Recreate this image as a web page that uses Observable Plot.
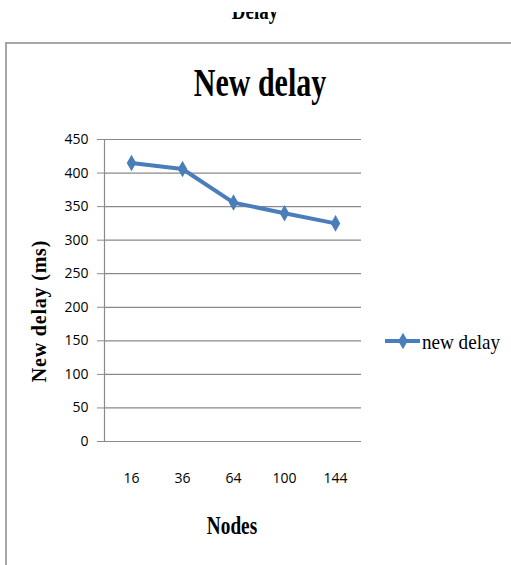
<!DOCTYPE html>
<html><head><meta charset="utf-8">
<script src="https://cdn.jsdelivr.net/npm/d3@7"></script>
<script src="https://cdn.jsdelivr.net/npm/@observablehq/plot@0.6"></script>
<style>
html,body{margin:0;padding:0;background:#fff;}
#wrap{position:relative;width:511px;height:565px;overflow:hidden;}
.t{position:absolute;font-family:"Liberation Serif","Times New Roman",serif;color:#000;white-space:nowrap;line-height:1;}
#border{position:absolute;left:5px;top:42px;width:520px;height:540px;border-left:2px solid #a6a6a6;border-top:2px solid #a6a6a6;}
#plot{position:absolute;left:0;top:0;}
</style></head>
<body><div id="wrap">
<div id="toptitle" class="t" style="left:255px;top:0;height:25px;width:0;overflow:visible;"></div>
<div id="border"></div>
<div id="plot"></div>
<div id="title" class="t"></div>
<div id="ylab" class="t"></div>
<div id="xlab" class="t"></div>
<svg id="leg" style="position:absolute;left:380px;top:330px;" width="131" height="30"></svg>
</div>
<script>
const nodes = ["16", "36", "64", "100", "144"];
const newDelay = [415, 406, 356, 340, 325];
const yTicks = [0, 50, 100, 150, 200, 250, 300, 350, 400, 450];
const seriesName = "new delay";
const chartTitle = "New delay";
const pageTitle = "Delay";
const xTitle = "Nodes";
const yTitle = "New delay (ms)";
const blue = "#4a7ebb";

const data = nodes.map((n, i) => ({node: n, delay: newDelay[i]}));

const chart = Plot.plot({
  width: 511, height: 565,
  marginLeft: 104, marginRight: 150, marginTop: 139, marginBottom: 124,
  style: {fontFamily: "'Open Sans', sans-serif", fontSize: "14px", color: "#000", background: "transparent"},
  x: {type: "point", domain: nodes, padding: 0.5, label: null},
  y: {domain: [0, 450], label: null},
  marks: [
    Plot.gridY(yTicks, {stroke: "#8a8a8a", strokeOpacity: 1, strokeWidth: 1.2}),
    Plot.frame({anchor: "left", stroke: "#8a8a8a", strokeWidth: 1.2}),
    Plot.axisY(yTicks, {tickSize: 7, tickPadding: 9, stroke: "#8a8a8a", label: null, tickFormat: d => String(d), fill: "#000"}),
    Plot.axisX({tickSize: 0, tickPadding: 32, label: null, fill: "#000"}),
    Plot.line(data, {x: "node", y: "delay", stroke: blue, strokeWidth: 4, strokeLinejoin: "round"}),
    Plot.dot(data, {x: "node", y: "delay", symbol: "diamond", r: 3.8, fill: blue, stroke: blue, strokeWidth: 2})
  ]
});
document.getElementById("plot").appendChild(chart);

function place(id, text, opts) {
  const el = document.getElementById(id);
  el.textContent = text;
  Object.assign(el.style, opts);
}
const tt = document.getElementById("toptitle");
tt.innerHTML = "";
const clip = document.createElement("div");
clip.style.cssText = "position:absolute;left:-40px;top:12px;width:80px;height:14px;overflow:hidden;";
const inner = document.createElement("div");
inner.className = "t";
inner.textContent = pageTitle;
inner.style.cssText = "position:absolute;left:40px;top:-14px;font-weight:bold;font-size:25px;transform:scaleX(0.76) translateX(-50%);transform-origin:0 0;line-height:25px;";
clip.appendChild(inner);
tt.appendChild(clip);

place("title", chartTitle, {left: "260px", top: "63px", fontWeight: "bold", fontSize: "40px", transform: "scaleX(0.75) translateX(-50%)", transformOrigin: "0 0"});
place("xlab", xTitle, {left: "232px", top: "513px", fontWeight: "bold", fontSize: "25px", transform: "scaleX(0.77) translateX(-50%)", transformOrigin: "0 0"});
place("ylab", yTitle, {left: "39px", top: "311px", fontWeight: "bold", fontSize: "20px", letterSpacing: "0.8px", transform: "translate(-50%,-50%) rotate(-90deg)", transformOrigin: "50% 50%"});

// legend drawn from the series name / color
const leg = d3.select("#leg");
leg.append("line").attr("x1", 5).attr("x2", 40).attr("y1", 11).attr("y2", 11)
  .attr("stroke", blue).attr("stroke-width", 4);
leg.append("path").attr("d", d3.symbol(d3.symbolDiamond, Math.PI * 3.8 * 3.8)())
  .attr("transform", "translate(23,11)").attr("fill", blue).attr("stroke", blue).attr("stroke-width", 2);
leg.append("text").attr("x", 42).attr("y", 19).text(seriesName)
  .attr("font-family", "Liberation Serif, serif").attr("font-size", 21)
  .attr("textLength", 78).attr("lengthAdjust", "spacingAndGlyphs");
</script>
</body></html>
